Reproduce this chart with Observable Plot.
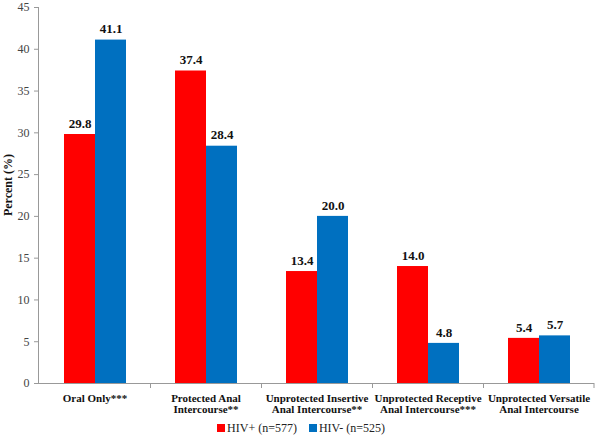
<!DOCTYPE html>
<html>
<head>
<meta charset="utf-8">
<script src="https://cdn.jsdelivr.net/npm/d3@7"></script>
<script src="https://cdn.jsdelivr.net/npm/@observablehq/plot@0.6"></script>
<style>
  body { margin: 0; background: #fff; font-family: 'Liberation Serif', serif; }
  svg text { font-family: 'Liberation Serif', serif !important; }
  #legend { display: flex; justify-content: center; gap: 12px; font-size: 12px; color: #222; margin-top: 3px; padding-left: 2px; font-family: 'Liberation Serif', serif; }
  .sw { display: inline-block; width: 8px; height: 8px; margin-right: 2px; }
</style>
</head>
<body>
<div id="chart"></div>
<div id="legend"></div>
<script>
const categories = [
  "Oral Only***",
  "Protected Anal\nIntercourse**",
  "Unprotected Insertive\nAnal Intercourse**",
  "Unprotected Receptive\nAnal Intercourse***",
  "Unprotected Versatile\nAnal Intercourse"
];
const series = ["HIV+ (n=577)", "HIV- (n=525)"];
const hivPos = [29.8, 37.4, 13.4, 14.0, 5.4];
const hivNeg = [41.1, 28.4, 20.0, 4.8, 5.7];
const colors = ["#ff0000", "#0070c0"];
const yTicks = [0, 5, 10, 15, 20, 25, 30, 35, 40, 45];

const FONT = "'Liberation Serif', serif";

const data = [];
categories.forEach((c, i) => {
  data.push({category: c, group: series[0], value: hivPos[i]});
  data.push({category: c, group: series[1], value: hivNeg[i]});
});

const plot = Plot.plot({
  width: 600,
  height: 418,
  marginTop: 7,
  marginBottom: 35,
  marginLeft: 38,
  marginRight: 5,
  style: {fontFamily: FONT, fontSize: "12px", color: "#222", background: "#fff"},
  fx: {domain: categories, padding: 0, label: null},
  x: {domain: series, paddingInner: 0, paddingOuter: 0.74, axis: null},
  y: {domain: [0, 45], ticks: yTicks, label: null},
  color: {domain: series, range: colors},
  marks: [
    Plot.barY(data, {fx: "category", x: "group", y: "value", fill: "group"}),
    Plot.text(data, {fx: "category", x: "group", y: "value", text: d => d.value.toFixed(1), dy: -11, fontWeight: "bold", fontSize: 13, fill: "#111", fontFamily: FONT}),
    Plot.axisY({ticks: yTicks, tickSize: 5, tickPadding: 5, stroke: "#999", fontSize: 12, fill: "#444", label: null, fontFamily: FONT}),
    Plot.ruleY([0], {stroke: "#999"}),
    Plot.axisFx({anchor: "bottom", tickSize: 0, tickPadding: 11, fontWeight: "bold", fontSize: 11, lineHeight: 0.98, label: null, fill: "#111", fontFamily: FONT})
  ]
});
document.getElementById("chart").appendChild(plot);

// Y axis line, title and category boundary tick marks, positioned from Plot's own scales
const svg = d3.select(plot);
svg.attr("font-family", FONT);
const yS = plot.scale("y");
const fxS = plot.scale("fx");
const yMid = (yS.apply(0) + yS.apply(45)) / 2;
svg.append("line")
  .attr("x1", 38.5).attr("x2", 38.5)
  .attr("y1", yS.apply(45)).attr("y2", yS.apply(0))
  .attr("stroke", "#999");
categories.slice(1).forEach(c => {
  const x = Math.round(fxS.apply(c)) + 0.5;
  svg.append("line").attr("x1", x).attr("x2", x)
    .attr("y1", yS.apply(0)).attr("y2", yS.apply(0) + 5).attr("stroke", "#999");
});
{
  const x = fxS.apply(categories[categories.length - 1]) + fxS.bandwidth;
  svg.append("line").attr("x1", x).attr("x2", x)
    .attr("y1", yS.apply(0)).attr("y2", yS.apply(0) + 5).attr("stroke", "#999");
}
svg.append("text")
  .attr("transform", `translate(9,${yMid - 10}) rotate(-90)`)
  .attr("text-anchor", "middle")
  .attr("dominant-baseline", "middle")
  .attr("font-weight", "bold")
  .attr("font-size", 12)
  .attr("fill", "#111")
  .text("Percent (%)");

const legend = document.getElementById("legend");
series.forEach((s, i) => {
  const item = document.createElement("span");
  item.innerHTML = `<span class="sw" style="background:${colors[i]}"></span>${s}`;
  legend.appendChild(item);
});
</script>
</body>
</html>
